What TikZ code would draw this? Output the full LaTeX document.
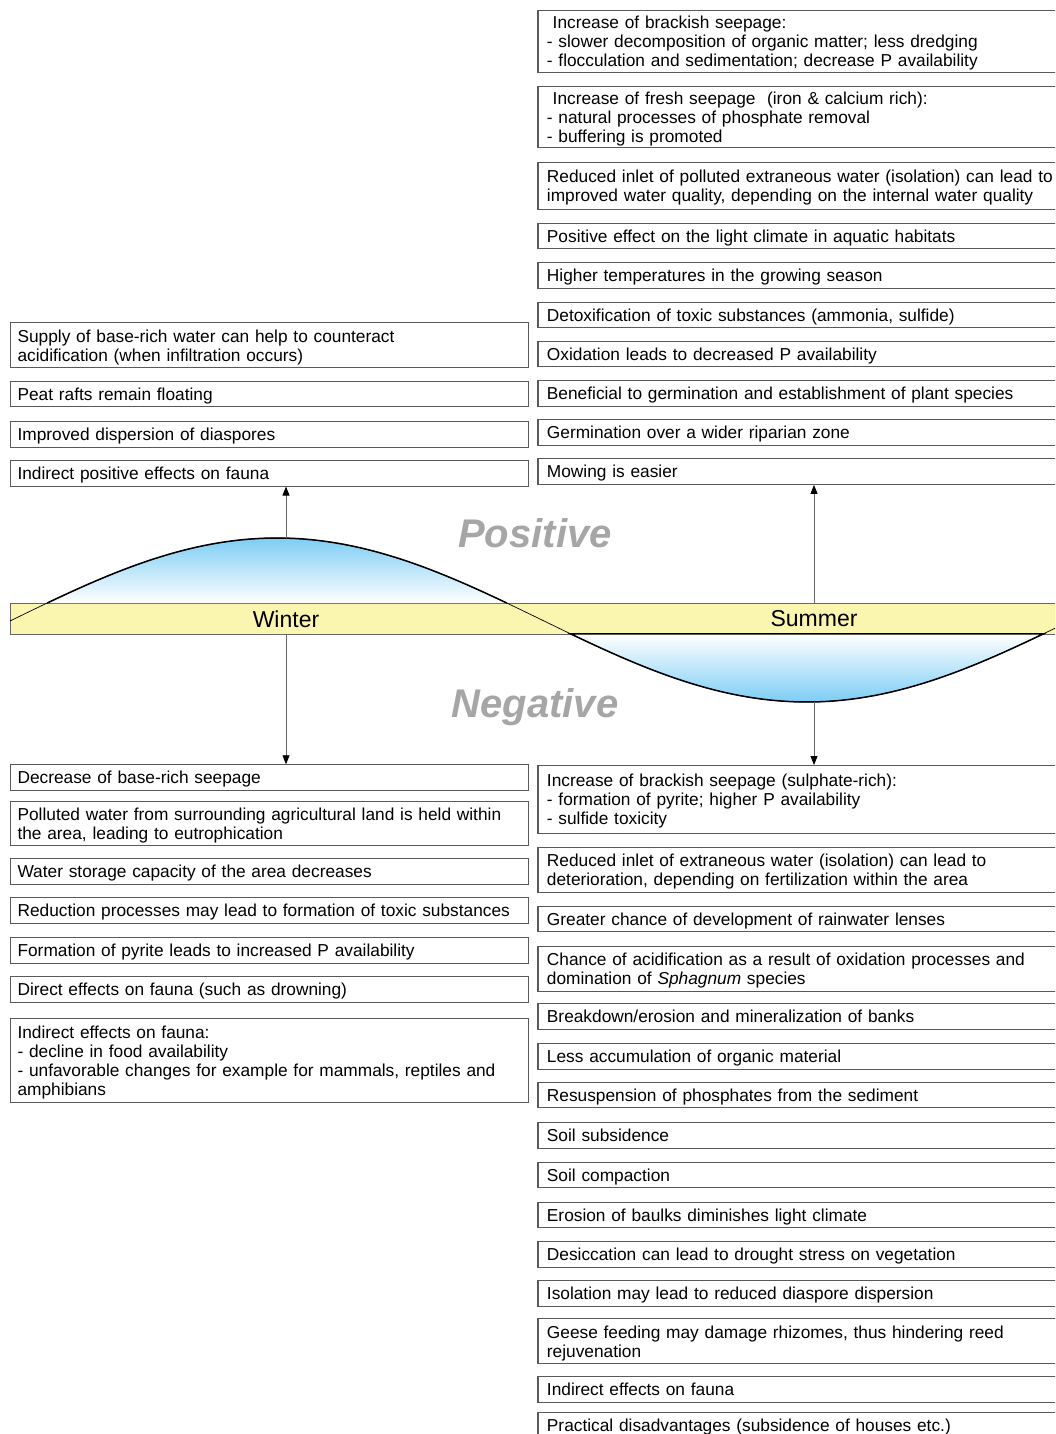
\documentclass[tikz,border=0pt]{standalone}
\usepackage{fontspec}
\setmainfont{Liberation Sans}
\usetikzlibrary{arrows.meta}
\definecolor{sandband}{RGB}{250,245,175}
\definecolor{waterblue}{RGB}{125,205,245}

\begin{document}
\begin{tikzpicture}[
    x=1pt, y=-1pt,
    effect/.style={rectangle, draw=black!65, line width=1.1pt, anchor=north west, text width=503.5pt, inner xsep=7pt, inner ysep=0pt, minimum height=25.5pt, align=left, font=\fontsize{17.3}{19}\selectfont, text height=18pt, execute at end node=\strut},
    effectwide/.style={effect, text width=524pt, inner xsep=9pt},
    season/.style={font=\fontsize{23}{25}\selectfont},
    gist/.style={font=\fontsize{40}{40}\selectfont\bfseries\itshape, text=black!35},
    link/.style={-{Triangle[length=9pt, width=7pt, color=black]}, draw=black!60, line width=0.8pt},
    declare function={wy(\x)=620-82*sin(0.339623*(\x-12));}
]
    \useasboundingbox[fill=white] (0,0) rectangle (1055,1434);
    \clip (0,0) rectangle (1055,1434);

    % Positive effects in winter
    \node[effect, minimum height=45pt] (supply) at (10,322.3) {Supply of base-rich water can help to counteract\\acidification (when infiltration occurs)};
    \node[effect] (peat) at (10,380.7) {Peat rafts remain floating};
    \node[effect] (disp) at (10,421.3) {Improved dispersion of diaspores};
    \node[effect] (indpos) at (10,460) {Indirect positive effects on fauna};

    % Positive effects in summer
    \node[effectwide, minimum height=60.7pt] (brack) at (537.4,10) {~Increase of brackish seepage:\\- slower decomposition of organic matter; less dredging\\- flocculation and sedimentation; decrease P availability};
    \node[effectwide, minimum height=60pt] (fresh) at (537.4,85.7) {~Increase of fresh seepage \ (iron \& calcium rich):\\- natural processes of phosphate removal\\- buffering is promoted};
    \node[effectwide, minimum height=46.7pt] (inlet) at (537.4,162.3) {Reduced inlet of polluted extraneous water (isolation) can lead to\\improved water quality, depending on the internal water quality};
    \node[effectwide] (light) at (537.4,222.7) {Positive effect on the light climate in aquatic habitats};
    \node[effectwide] (temp) at (537.4,262.3) {Higher temperatures in the growing season};
    \node[effectwide] (detox) at (537.4,301.7) {Detoxification of toxic substances (ammonia, sulfide)};
    \node[effectwide] (oxid) at (537.4,340.7) {Oxidation leads to decreased P availability};
    \node[effectwide] (germ) at (537.4,380) {Beneficial to germination and establishment of plant species};
    \node[effectwide] (ripar) at (537.4,419.3) {Germination over a wider riparian zone};
    \node[effectwide] (mowing) at (537.4,458.3) {Mowing is easier};

    % Negative effects in winter
    \node[effect] (decbase) at (10,764.3) {Decrease of base-rich seepage};
    \node[effect, minimum height=44pt] (agri) at (10,801) {Polluted water from surrounding agricultural land is held within\\the area, leading to eutrophication};
    \node[effect] (storage) at (10,858.3) {Water storage capacity of the area decreases};
    \node[effect] (reduct) at (10,897.3) {Reduction processes may lead to formation of toxic substances};
    \node[effect] (pyrite) at (10,937.3) {Formation of pyrite leads to increased P availability};
    \node[effect] (direct) at (10,976) {Direct effects on fauna (such as drowning)};
    \node[effect, minimum height=83.4pt] (indneg) at (10,1018.3) {Indirect effects on fauna:\\- decline in food availability\\- unfavorable changes for example for mammals, reptiles and\\amphibians};

    % Negative effects in summer
    \node[effectwide, minimum height=67.7pt] (sulph) at (537.4,765) {Increase of brackish seepage (sulphate-rich):\\- formation of pyrite; higher P availability\\- sulfide toxicity};
    \node[effectwide, minimum height=44.7pt] (deter) at (537.4,847) {Reduced inlet of extraneous water (isolation) can lead to\\deterioration, depending on fertilization within the area};
    \node[effectwide] (lenses) at (537.4,905.7) {Greater chance of development of rainwater lenses};
    \node[effectwide, minimum height=45pt] (acid) at (537.4,945.7) {Chance of acidification as a result of oxidation processes and\\domination of \textit{Sphagnum} species};
    \node[effectwide] (banks) at (537.4,1003.3) {Breakdown/erosion and mineralization of banks};
    \node[effectwide] (accum) at (537.4,1043.3) {Less accumulation of organic material};
    \node[effectwide] (resusp) at (537.4,1081.7) {Resuspension of phosphates from the sediment};
    \node[effectwide] (subsid) at (537.4,1122) {Soil subsidence};
    \node[effectwide] (compact) at (537.4,1161.7) {Soil compaction};
    \node[effectwide] (baulks) at (537.4,1201.7) {Erosion of baulks diminishes light climate};
    \node[effectwide] (desicc) at (537.4,1241) {Desiccation can lead to drought stress on vegetation};
    \node[effectwide] (isol) at (537.4,1280) {Isolation may lead to reduced diaspore dispersion};
    \node[effectwide, minimum height=45pt] (geese) at (537.4,1318.3) {Geese feeding may damage rhizomes, thus hindering reed\\rejuvenation};
    \node[effectwide] (indfauna) at (537.4,1376) {Indirect effects on fauna};
    \node[effectwide] (practical) at (537.4,1411.7) {Practical disadvantages (subsidence of houses etc.)};

    % Season band and water level
    \node[draw=black!60, fill=sandband, line width=0.8pt, anchor=north west, minimum width=1070pt, minimum height=31pt, inner sep=0pt] (band) at (10,603) {};
    \shade[top color=waterblue, bottom color=white] plot[domain=47.2:506.8, samples=60] (\x,{wy(\x)}) -- cycle;
    \shadedraw[top color=white, bottom color=waterblue, line width=1.5pt] plot[domain=570.9:1043.1, samples=60] (\x,{wy(\x)}) -- cycle;
    \draw[line width=1.5pt] plot[domain=47.2:506.8, samples=60] (\x,{wy(\x)});
    \draw[line width=0.7pt] plot[domain=10:1055, samples=120] (\x,{wy(\x)});

    \node[season] (wint) at (286,619) {Winter};
    \node[season] (sumr) at (814,619) {Summer};
    \node[gist] (pos) at (535,533) {Positive};
    \node[gist] (neg) at (535,707) {Negative};
    \coordinate (crest) at (286,{wy(286)});
    \coordinate (trough) at (814,{wy(814)});

    % Arrows
    \draw[link] (crest) -- (crest |- indpos.south);
    \draw[link] (wint |- band.south) -- (wint |- decbase.north);
    \draw[link] (sumr |- band.north) -- (sumr |- mowing.south);
    \draw[link] (trough) -- (trough |- sulph.north);
\end{tikzpicture}
\end{document}
